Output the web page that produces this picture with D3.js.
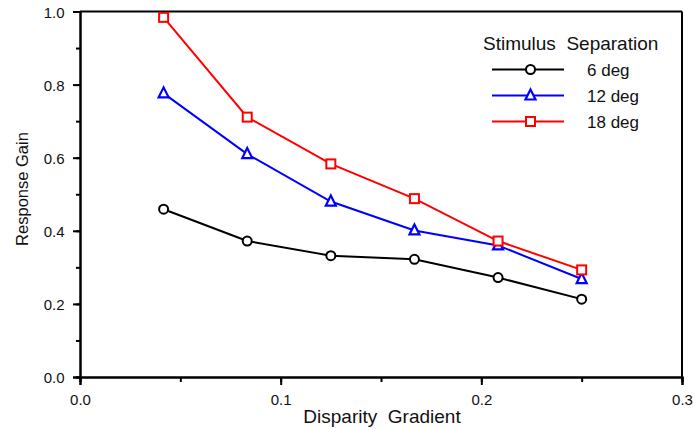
<!DOCTYPE html>
<html><head><meta charset="utf-8">
<script src="https://cdn.jsdelivr.net/npm/d3@7"></script>
<style>body{margin:0;background:#fff}svg{display:block}text{font-family:"Liberation Sans",Arial,sans-serif;fill:#111}</style>
</head><body><svg id="c" width="695" height="429"></svg>
<script>
const xValues = [1/24, 2/24, 3/24, 4/24, 5/24, 6/24];
const sep6  = [0.459, 0.372, 0.332, 0.322, 0.272, 0.213];
const sep12 = [0.776, 0.610, 0.480, 0.401, 0.360, 0.268];
const sep18 = [0.984, 0.711, 0.583, 0.488, 0.372, 0.293];
const seriesNames = ["6 deg", "12 deg", "18 deg"];
const xTicks = [0.0, 0.1, 0.2, 0.3];
const yTicks = [0.0, 0.2, 0.4, 0.6, 0.8, 1.0];

const series = [
  {name: seriesNames[0], values: sep6, color: "#000000", shape: "circle"},
  {name: seriesNames[1], values: sep12, color: "#0000ff", shape: "triangle"},
  {name: seriesNames[2], values: sep18, color: "#ff0000", shape: "square"}
];

const svg = d3.select("#c");
const x = d3.scaleLinear().domain([0, 0.3]).range([80, 682]);
const y = d3.scaleLinear().domain([0, 1]).range([377, 11.5]);

svg.append("line").attr("x1", 80).attr("x2", 682).attr("y1", y(1)).attr("y2", y(1)).attr("stroke", "#000").attr("stroke-width", 2);
svg.append("line").attr("x1", 682).attr("x2", 682).attr("y1", y(1)).attr("y2", y(0)).attr("stroke", "#000").attr("stroke-width", 2);

const gx = svg.append("g").attr("transform", `translate(0,${y(0)})`);
gx.call(d3.axisBottom(x).tickValues(d3.range(0, 0.3001, 0.05)).tickSize(5).tickFormat(""));
gx.append("g").call(d3.axisBottom(x).tickValues(xTicks).tickSize(8).tickPadding(9).tickFormat(d3.format(".1f")));
gx.selectAll("path.domain").attr("stroke-width", 2);
gx.selectAll(".tick line").attr("stroke-width", 2);
gx.selectAll("text").style("font-size", "15px").attr("fill", "#111");

const gy = svg.append("g").attr("transform", `translate(${x(0)},0)`);
gy.call(d3.axisLeft(y).tickValues(d3.range(0, 1.0001, 0.1)).tickSize(4).tickFormat(""));
gy.append("g").call(d3.axisLeft(y).tickValues(yTicks).tickSize(7).tickPadding(8.5).tickFormat(d3.format(".1f")));
gy.selectAll("path.domain").attr("stroke-width", 2);
gy.selectAll(".tick line").attr("stroke-width", 2);
gy.selectAll("text").style("font-size", "15px").attr("dy", "0.38em").attr("fill", "#111");

svg.append("text").attr("x", 382).attr("y", 423).attr("text-anchor", "middle").style("font-size", "19px").style("white-space", "pre").text("Disparity  Gradient");
svg.append("text").attr("transform", `translate(27.5,189) rotate(-90)`).attr("text-anchor", "middle").style("font-size", "16.5px").text("Response Gain");

function marker(g, shape, color, cx, cy) {
  if (shape === "circle") {
    g.append("circle").attr("cx", cx).attr("cy", cy).attr("r", 4.5).attr("fill", "#fff").attr("stroke", color).attr("stroke-width", 2);
  } else if (shape === "square") {
    g.append("rect").attr("x", cx - 4.5).attr("y", cy - 4.5).attr("width", 9).attr("height", 9).attr("fill", "#fff").attr("stroke", color).attr("stroke-width", 2);
  } else {
    g.append("path").attr("d", `M${cx},${cy-6} L${cx+5},${cy+4} L${cx-5},${cy+4} Z`).attr("fill", "#fff").attr("stroke", color).attr("stroke-width", 2.2).attr("stroke-linejoin", "miter");
  }
}

const line = d3.line().x((d, i) => x(xValues[i])).y(d => y(d));
series.forEach(s => {
  const g = svg.append("g");
  g.append("path").datum(s.values).attr("d", line).attr("fill", "none").attr("stroke", s.color).attr("stroke-width", 2);
  s.values.forEach((v, i) => marker(g, s.shape, s.color, x(xValues[i]), y(v)));
});

svg.append("text").attr("x", 483).attr("y", 50).style("font-size", "19px").style("white-space", "pre").text("Stimulus  Separation");
const ly = [69.5, 95.5, 121.5];
series.forEach((s, i) => {
  const g = svg.append("g");
  g.append("line").attr("x1", 492).attr("x2", 564).attr("y1", ly[i]).attr("y2", ly[i]).attr("stroke", s.color).attr("stroke-width", 2);
  marker(g, s.shape, s.color, 530.5, ly[i]);
  svg.append("text").attr("x", 587).attr("y", ly[i] + 6.5).style("font-size", "17px").text(s.name);
});
</script></body></html>
